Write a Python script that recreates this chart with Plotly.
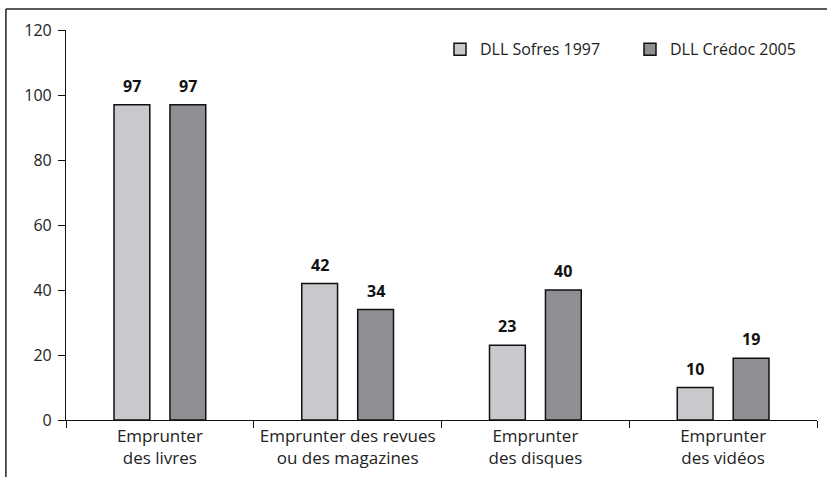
import plotly.graph_objects as go

categories = ["Emprunter<br>des livres", "Emprunter des revues<br>ou des magazines",
              "Emprunter<br>des disques", "Emprunter<br>des vidéos"]
sofres_1997 = [97, 42, 23, 10]
credoc_2005 = [97, 34, 40, 19]
series_names = ["DLL Sofres 1997", "DLL Crédoc 2005"]
y_ticks = [0, 20, 40, 60, 80, 100, 120]

FONT = "Open Sans"
colors = ["#c9c9cd", "#8e8f93"]
fig = go.Figure()
for name, vals, col in [(series_names[0], sofres_1997, colors[0]),
                        (series_names[1], credoc_2005, colors[1])]:
    fig.add_trace(go.Bar(
        x=categories, y=vals, name=name,
        marker=dict(color=col, line=dict(color="#111", width=1.5)),
        hoverinfo="skip",
    ))

# value labels above the bars
for j, vals in enumerate([sofres_1997, credoc_2005]):
    for cat, v in zip(categories, vals):
        fig.add_annotation(x=cat, y=v, text=f"<b>{v}</b>", showarrow=False,
                           xref="x", yref="y", xanchor="center", yanchor="bottom",
                           xshift=-28 if j == 0 else 28, yshift=6,
                           font=dict(family=FONT, size=16, color="#111"))

fig.update_layout(
    width=827, height=477,
    margin=dict(l=66, r=10, t=30, b=57, autoexpand=False),
    paper_bgcolor="white", plot_bgcolor="white",
    barmode="group", bargap=0.404, bargroupgap=0.36,
    font=dict(family=FONT, size=16, color="#222"),
    showlegend=True,
    legend=dict(orientation="h", x=0.498, y=0.994, xanchor="left", yanchor="top",
                font=dict(family=FONT, size=16, color="#222"),
                bgcolor="rgba(0,0,0,0)", itemwidth=30, traceorder="normal",
                entrywidth=145, entrywidthmode="pixels"),
)
fig.update_xaxes(showline=True, linecolor="#111", linewidth=1.2,
                 ticks="outside", tickson="boundaries", ticklen=7,
                 tickcolor="#111", showgrid=False, tickangle=0, automargin=False,
                 tickfont=dict(family=FONT, size=17, color="#222"))
fig.update_yaxes(range=[0, 120], tickvals=y_ticks, showline=True, linecolor="#111",
                 linewidth=1.2, ticks="outside", ticklen=7, tickcolor="#111",
                 showgrid=False, zeroline=False, automargin=False,
                 ticklabelstandoff=3,
                 tickfont=dict(family=FONT, size=16, color="#222"))

# outer frame (clipped on the right and bottom as in the reference)
fig.add_shape(type="line", xref="paper", yref="paper", x0=-0.08, x1=1.2,
              y0=1.054, y1=1.054, line=dict(color="#222", width=1.5))
fig.add_shape(type="line", xref="paper", yref="paper", x0=-0.08, x1=-0.08,
              y0=1.054, y1=-0.3, line=dict(color="#222", width=1.5))

fig.write_html("out.html", config={"displayModeBar": False},
               post_script="document.body.style.margin='0';")
